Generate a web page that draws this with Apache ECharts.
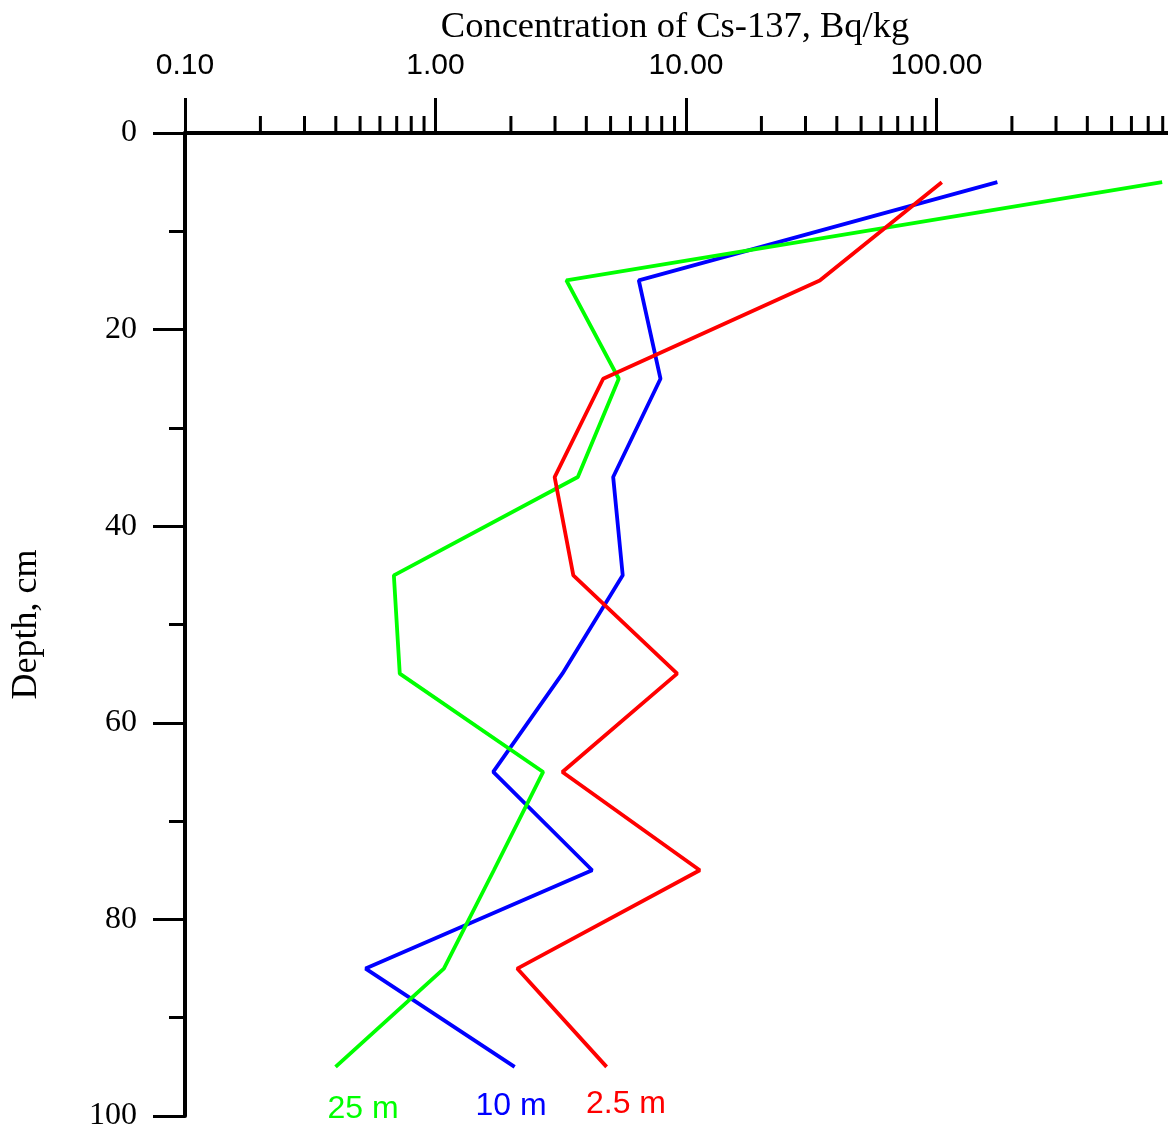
<!DOCTYPE html>
<html>
<head>
<meta charset="utf-8">
<script src="https://cdn.jsdelivr.net/npm/echarts@6/dist/echarts.min.js"></script>
<style>
  html, body { margin: 0; padding: 0; background: #fff; overflow: hidden; }
  #chart { width: 1168px; height: 1131px; }
</style>
</head>
<body>
<div id="chart"></div>
<script>
// Depths (cm) of each sample layer
var depths = [5, 15, 25, 35, 45, 55, 65, 75, 85, 95];
// Cs-137 concentration, Bq/kg, at each depth
var conc_2_5m = [105, 34.2, 4.67, 2.99, 3.55, 9.22, 3.21, 11.35, 2.12, 4.82];
var conc_10m  = [175, 6.48, 7.91, 5.12, 5.59, 3.21, 1.70, 4.22, 0.526, 2.07];
var conc_25m  = [796, 3.33, 5.39, 3.70, 0.682, 0.720, 2.69, 1.71, 1.08, 0.399];
// Minor tick values on the log concentration axis
var xMinorTicks = [0.2,0.3,0.4,0.5,0.6,0.7,0.8,0.9, 2,3,4,5,6,7,8,9, 20,30,40,50,60,70,80,90, 200,300,400,500,600,700,800,900];
var seriesNames = ['10 m', '25 m', '2.5 m'];

function pairs(vals) {
  return vals.map(function (v, i) { return [v, depths[i]]; });
}

var SERIF = "'Times New Roman', 'Liberation Serif', serif";
var SANS = "Arial, 'Liberation Sans', sans-serif";

var chart = echarts.init(document.getElementById('chart'), null, { renderer: 'canvas' });
chart.setOption({
  animation: false,
  backgroundColor: '#ffffff',
  grid: { left: 185, top: 133, bottom: 15, right: -19, outerBoundsMode: 'none', containLabel: false },
  xAxis: {
    type: 'log',
    logBase: 10,
    position: 'top',
    min: 0.1,
    max: 1000,
    name: 'Concentration of Cs-137, Bq/kg',
    nameLocation: 'middle',
    nameGap: 86,
    nameTextStyle: { fontFamily: SERIF, fontSize: 36.5, color: '#000', padding: [0, 22, 0, 0] },
    axisLine: { show: true, lineStyle: { color: '#000', width: 4 } },
    axisTick: { show: true, length: 35, lineStyle: { color: '#000', width: 3 } },
    axisLabel: {
      margin: 52,
      fontFamily: SANS, fontSize: 30, color: '#000',
      formatter: function (v) { return v >= 999 ? '' : Number(v).toFixed(2); }
    },
    splitLine: { show: false }
  },
  yAxis: {
    type: 'value',
    inverse: true,
    min: 0,
    max: 100,
    interval: 20,
    name: 'Depth, cm',
    nameLocation: 'middle',
    nameGap: 140,
    nameTextStyle: { fontFamily: SERIF, fontSize: 36, color: '#000' },
    axisLine: { show: true, lineStyle: { color: '#000', width: 4 } },
    axisTick: { show: true, length: 32, lineStyle: { color: '#000', width: 3 } },
    minorTick: { show: true, splitNumber: 2, length: 16, lineStyle: { color: '#000', width: 3 } },
    axisLabel: { margin: 48, fontFamily: SERIF, fontSize: 32, color: '#000' },
    splitLine: { show: false },
    minorSplitLine: { show: false }
  },
  graphic: [
    { type: 'text', x: 363, y: 1109, style: { text: '25 m', fill: '#00ff00', font: '32px ' + SANS, align: 'center', verticalAlign: 'middle' } },
    { type: 'text', x: 511, y: 1106, style: { text: '10 m', fill: '#0000ff', font: '32px ' + SANS, align: 'center', verticalAlign: 'middle' } },
    { type: 'text', x: 626, y: 1104, style: { text: '2.5 m', fill: '#ff0000', font: '32px ' + SANS, align: 'center', verticalAlign: 'middle' } }
  ],
  series: [
    {
      type: 'custom',
      name: 'minorTicks',
      silent: true,
      clip: false,
      data: xMinorTicks.map(function (v) { return [v, 0]; }),
      renderItem: function (params, api) {
        var p = api.coord([api.value(0), api.value(1)]);
        return {
          type: 'line',
          shape: { x1: p[0], y1: p[1], x2: p[0], y2: p[1] - 17 },
          style: { stroke: '#000', lineWidth: 3 }
        };
      }
    },
    { type: 'line', name: seriesNames[0], data: pairs(conc_10m), symbol: 'none', lineStyle: { color: '#0000ff', width: 3.8 }, itemStyle: { color: '#0000ff' } },
    { type: 'line', name: seriesNames[1], data: pairs(conc_25m), symbol: 'none', lineStyle: { color: '#00ff00', width: 3.8 }, itemStyle: { color: '#00ff00' } },
    { type: 'line', name: seriesNames[2], data: pairs(conc_2_5m), symbol: 'none', lineStyle: { color: '#ff0000', width: 3.8 }, itemStyle: { color: '#ff0000' } }
  ]
});
</script>
</body>
</html>
